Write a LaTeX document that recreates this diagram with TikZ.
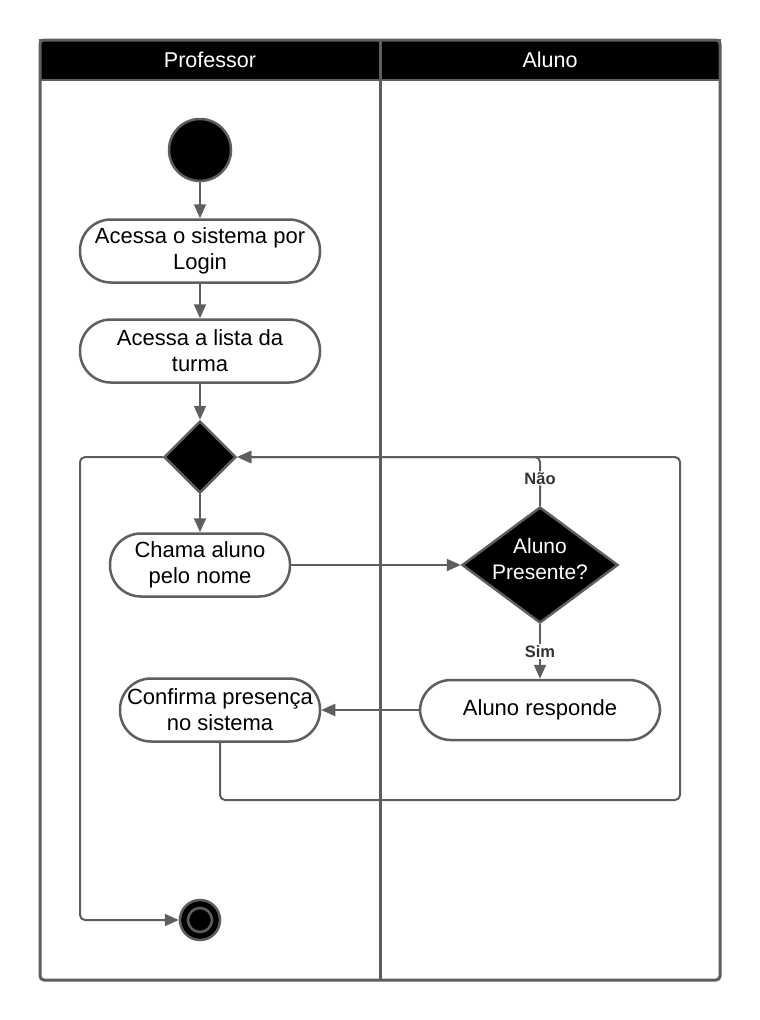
\documentclass[tikz,border=0pt]{standalone}
\usepackage{fontspec}
\setmainfont{Liberation Sans}
\usetikzlibrary{arrows.meta,shapes.geometric}
\definecolor{linegray}{HTML}{5E5E5E}
\tikzset{
lane head/.style={fill=black, draw=linegray, line width=2pt, text=white, minimum width=340pt, minimum height=40pt, font=\fontsize{21.5}{24}\selectfont},
activity/.style={rectangle, rounded corners=31pt, draw=linegray, line width=2.5pt, fill=white, align=center, minimum height=63pt, inner sep=0pt, font=\fontsize{22}{26}\selectfont},
decision/.style={diamond, draw=linegray, line width=2.5pt, fill=black, inner sep=-10pt, aspect=1.34},
flow/.style={draw=linegray, line width=2pt, -{Triangle[length=14pt,width=12pt]}},
guard/.style={fill=white, inner sep=1pt, text=black!80, font=\bfseries\fontsize{16.5}{19}\selectfont}
}

\begin{document}
\begin{tikzpicture}[x=1pt,y=-1pt]
\useasboundingbox (0,0) rectangle (760,1020);
% swimlanes
\node[lane head] (professor) at (210,60) {Professor};
\node[lane head] (aluno) at (550,60) {Aluno};
\draw[linegray, line width=3pt, rounded corners=4pt] (40,40) rectangle (720,980);
\draw[linegray, line width=3pt] (380,40) -- (380,980);
% actions
\node[circle, fill=black, draw=linegray, line width=2.5pt, minimum size=62pt] (inicio) at (200,150) {};
\node[activity, minimum width=240pt] (login) at (200,251) {Acessa o sistema por\\Login};
\node[activity, minimum width=240pt] (lista) at (200,351) {Acessa a lista da\\turma};
\node[decision, minimum width=72pt, minimum height=72pt] (merge) at (200,457) {};
\node[activity, minimum width=180pt] (chama) at (200,565) {Chama aluno\\pelo nome};
\node[decision, minimum width=156pt, minimum height=116pt, text=white, align=center, text depth=13pt, font=\fontsize{21}{26}\selectfont] (presente) at (540,565) {Aluno\\Presente?};
\node[activity, minimum width=240pt, minimum height=60pt] (responde) at (540,710) {Aluno responde};
\node[activity, minimum width=200pt] (confirma) at (220,710) {Confirma presença\\no sistema};
\node[circle, fill=black, draw=linegray, line width=2.5pt, minimum size=40pt] (fim) at (200,920) {};
\draw[linegray, line width=2.5pt] (fim.center) circle (12);
% flows
\draw[flow] (inicio) -- (login);
\draw[flow] (login) -- (lista);
\draw[flow] (lista) -- (merge);
\draw[flow] (merge) -- (chama);
\draw[flow] (chama) -- (presente);
\draw[flow] (presente) -- node[guard] {Sim} (responde);
\draw[flow] (responde) -- (confirma);
\draw[flow, rounded corners=5pt] (presente.north) |- node[guard, pos=0.28] {Não} (merge.east);
\coordinate (volta) at (680,800);
\draw[flow, rounded corners=5pt] (confirma.south) |- (volta) |- (merge.east);
\coordinate (saida) at (80,920);
\draw[flow, rounded corners=5pt] (merge.west) -| (saida) -- (fim);
\end{tikzpicture}
\end{document}
